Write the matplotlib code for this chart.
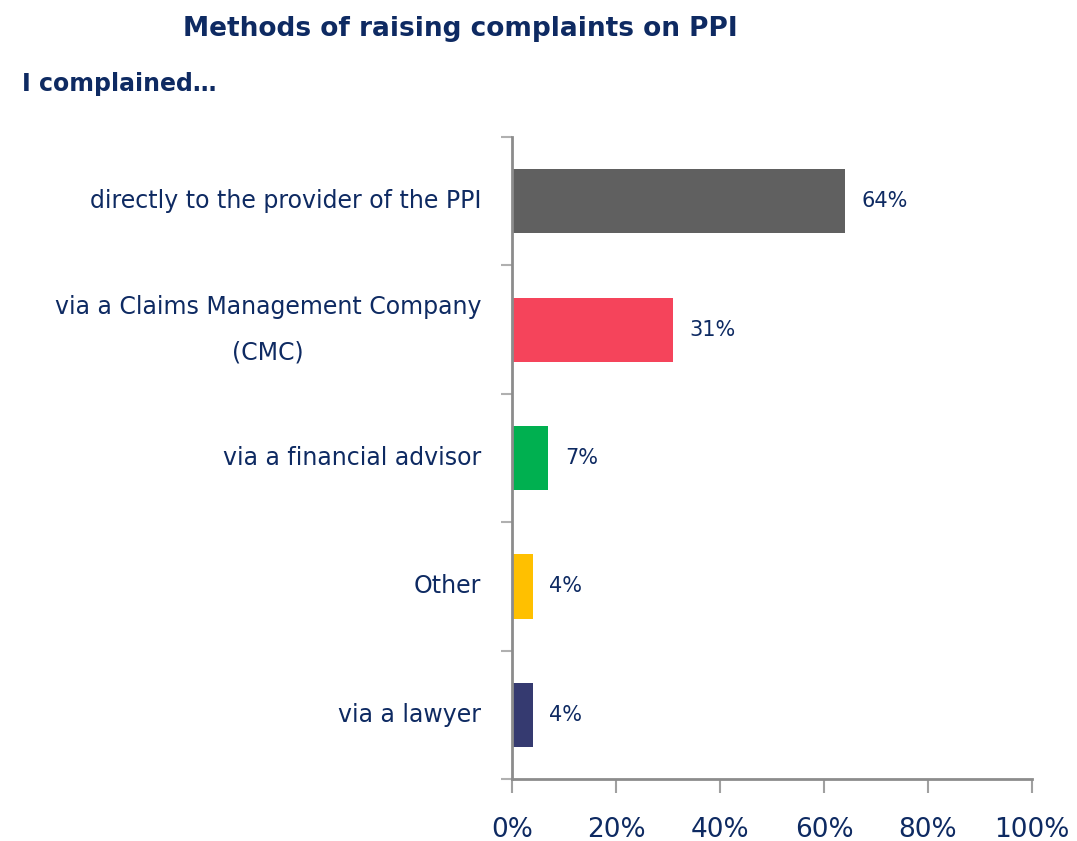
import matplotlib.pyplot as plt
import numpy as np

categories = ['directly to the provider of the PPI', 'via a Claims Management Company\n(CMC)',
              'via a financial advisor', 'Other', 'via a lawyer']
values = [64, 31, 7, 4, 4]
colors = ['#606060', '#F5445B', '#00B050', '#FFC000', '#353A70']
x_ticks = [0, 20, 40, 60, 80, 100]

TEXT = '#0E2A62'
AXIS = '#8C8C8C'
plt.rcParams['font.family'] = ['DejaVu Sans']

fig = plt.figure(figsize=(10.77, 8.41), dpi=100)
ax = fig.add_axes([0.4754, 0.0737, 0.4828, 0.7634])

y = np.arange(len(categories))
ax.barh(y, values, height=0.5, color=colors)
ax.set_ylim(len(categories) - 0.5, -0.5)
ax.set_xlim(0, 100)

for yi, v in zip(y, values):
    ax.annotate(f'{v}%', xy=(v, yi), xytext=(12, 0), textcoords='offset points',
                ha='left', va='center', fontsize=15, color=TEXT)

ax.set_yticks(y)
ax.set_yticklabels(categories, fontsize=17, color=TEXT, ha='right',
                   multialignment='center', linespacing=2.1)
for lbl in ax.get_yticklabels():
    lbl.set_va('center')
ax.tick_params(axis='y', length=0, pad=22)
ax.set_yticks(np.arange(-0.5, len(categories)), minor=True)
ax.tick_params(axis='y', which='minor', length=8, width=1.5, color='#B0B0B0', direction='out')

ax.set_xticks(x_ticks)
ax.set_xticklabels([f'{t}%' for t in x_ticks], fontsize=19, color=TEXT)
ax.tick_params(axis='x', length=10, width=1.5, color='#A0A0A0', pad=17)

for side in ['top', 'right']:
    ax.spines[side].set_visible(False)
for side in ['left', 'bottom']:
    ax.spines[side].set_color(AXIS)
    ax.spines[side].set_linewidth(2)

fig.text(0.17, 0.965, 'Methods of raising complaints on PPI', fontsize=19, color=TEXT,
         ha='left', va='center', fontweight='semibold')
fig.text(0.02, 0.9, 'I complained\u2026', fontsize=17, color=TEXT, ha='left', va='center',
         fontweight='semibold')

plt.savefig('out.png', dpi=100)
plt.close()
